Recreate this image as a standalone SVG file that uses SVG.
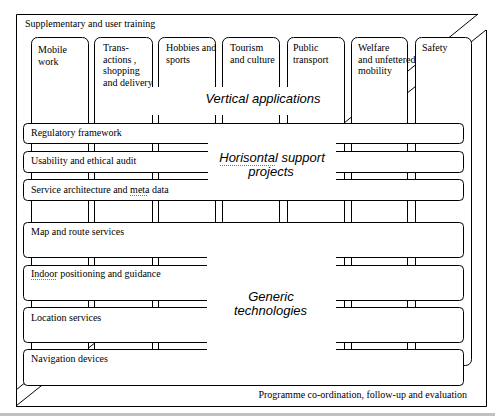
<svg xmlns="http://www.w3.org/2000/svg" width="495" height="416" viewBox="0 0 495 416">
<style>
.ln{fill:none;stroke:#000;stroke-width:1}
.col{fill:#fff;stroke:#000;stroke-width:1}
.bar{fill:#fff;stroke:#000;stroke-width:1}
.mask{fill:#fff;stroke:none}
.t{font-family:"Liberation Serif","Times New Roman",serif;font-size:10px;fill:#000}
.big{font-family:"Liberation Sans",Arial,sans-serif;font-size:13px;font-style:italic;fill:#000;text-anchor:middle}
.sq{fill:none;stroke:#777;stroke-width:1;stroke-dasharray:1 1}
</style>
<rect width="495" height="416" fill="#fff"/>
<rect x="0" y="413" width="495" height="3" fill="#c0c0c0"/>
<g id="frame">
<line x1="478" y1="14" x2="16" y2="390" class="ln"/>
<line x1="486" y1="30" x2="16" y2="406" class="ln"/>
<path d="M16.5,406.5 V14.5 H478" class="ln"/>
<path d="M486.5,30 V406.5 H16" class="ln"/>
<text class="t" x="25" y="27">Supplementary and user training</text>
<text class="t" x="467" y="398" text-anchor="end">Programme co-ordination, follow-up and evaluation</text>
</g>
<g id="vertical-applications">
<g id="col-mobile"><rect class="col" x="31.5" y="37.5" width="57" height="328" rx="6"/>
<text class="t" x="38" y="53"><tspan x="38">Mobile</tspan><tspan x="38" dy="11.5">work</tspan></text></g>
<g id="col-transactions"><rect class="col" x="94.5" y="37.5" width="58" height="328" rx="6"/>
<text class="t" x="103" y="51"><tspan x="103">Trans-</tspan><tspan x="103" dy="11.7">actions ,</tspan><tspan x="103" dy="11.7">shopping</tspan><tspan x="103" dy="11.7">and delivery</tspan></text></g>
<g id="col-hobbies"><rect class="col" x="158.5" y="37.5" width="57" height="328" rx="6"/>
<text class="t" x="166" y="51"><tspan x="166">Hobbies and</tspan><tspan x="166" dy="11.7">sports</tspan></text></g>
<g id="col-tourism"><rect class="col" x="222.5" y="37.5" width="57" height="328" rx="6"/>
<text class="t" x="230" y="51"><tspan x="230">Tourism</tspan><tspan x="230" dy="11.7">and culture</tspan></text></g>
<g id="col-public"><rect class="col" x="287.5" y="37.5" width="57" height="328" rx="6"/>
<text class="t" x="293" y="51"><tspan x="293">Public</tspan><tspan x="293" dy="11.7">transport</tspan></text></g>
<g id="col-welfare"><rect class="col" x="351.5" y="37.5" width="56" height="328" rx="6"/>
<text class="t" x="358" y="51"><tspan x="358">Welfare</tspan><tspan x="358" dy="11.7">and unfettered</tspan><tspan x="358" dy="11.7">mobility</tspan></text></g>
<g id="col-safety"><rect class="col" x="415.5" y="37.5" width="56" height="328" rx="6"/>
<text class="t" x="422" y="51">Safety</text></g>
</g>
<g id="bars">
<g id="bar-regulatory"><rect class="bar" x="23.5" y="123.5" width="440" height="20" rx="4"/><text class="t" x="31" y="136">Regulatory framework</text></g>
<g id="bar-usability"><rect class="bar" x="23.5" y="151.5" width="440" height="21" rx="4"/><text class="t" x="31" y="164">Usability and ethical audit</text></g>
<g id="bar-service"><rect class="bar" x="23.5" y="179.5" width="440" height="21" rx="4"/><text class="t" x="31" y="193">Service architecture and meta data</text>
<line class="sq" x1="130" y1="195.5" x2="148" y2="195.5"/></g>
<g id="bar-map"><rect class="bar" x="23.5" y="222.5" width="440" height="35" rx="4"/><text class="t" x="31" y="235">Map and route services</text></g>
<g id="bar-indoor"><rect class="bar" x="23.5" y="265.5" width="440" height="35" rx="4"/><text class="t" x="31" y="277">Indoor positioning and guidance</text>
<line class="sq" x1="31" y1="279.5" x2="57" y2="279.5"/></g>
<g id="bar-location"><rect class="bar" x="23.5" y="307.5" width="440" height="35" rx="4"/><text class="t" x="31" y="321">Location services</text></g>
<g id="bar-navigation"><rect class="bar" x="23.5" y="349.5" width="440" height="36" rx="4"/><text class="t" x="31" y="362">Navigation devices</text></g>
</g>
<g id="label-vertical"><rect class="mask" x="151" y="87" width="190" height="28"/>
<text class="big" x="263" y="103">Vertical applications</text></g>
<g id="label-horisontal"><rect class="mask" x="208" y="142.6" width="128" height="56.8"/>
<text class="big" x="272" y="162">Horisontal support</text>
<text class="big" x="271" y="176">projects</text>
<line class="sq" x1="220" y1="165.5" x2="275" y2="165.5"/></g>
<g id="label-generic"><rect class="mask" x="207" y="256" width="129" height="128.6"/>
<text class="big" x="271" y="301">Generic</text>
<text class="big" x="270.5" y="315">technologies</text></g>
</svg>
